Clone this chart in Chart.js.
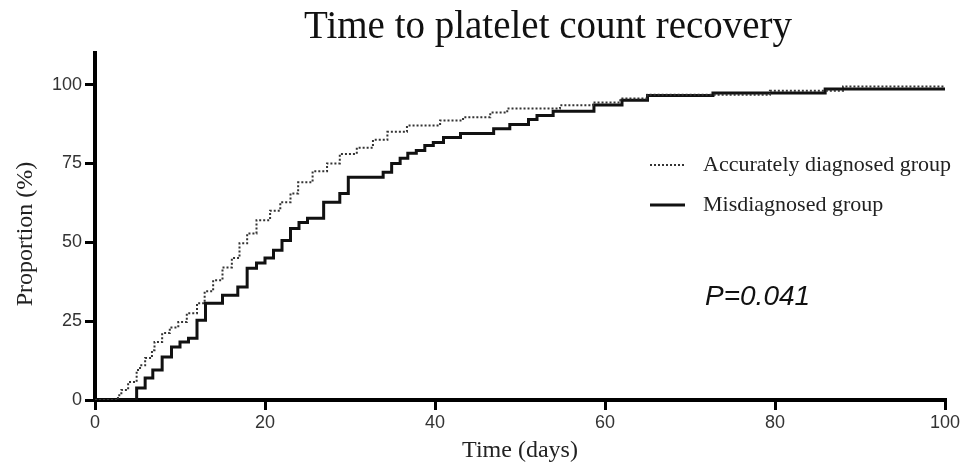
<!DOCTYPE html>
<html>
<head>
<meta charset="utf-8">
<title>Time to platelet count recovery</title>
<script src="https://cdn.jsdelivr.net/npm/chart.js@4.4.1/dist/chart.umd.min.js"></script>
<style>
    body { margin: 0; background: #fff; }
    #wrap { width: 974px; height: 466px; position: relative; }
</style>
</head>
<body>
<div id="wrap"><canvas id="kmChart"></canvas></div>
<script>
// Kaplan-Meier style step data (day of step, proportion after step)
const accurateDays = [0, 2.7, 3.1, 3.9, 4.9, 5.3, 5.9, 6.7, 7.0, 7.9, 8.8, 9.8, 10.8, 12.0, 12.9, 13.9, 15.0, 16.1, 17.0, 17.9, 19.0, 20.6, 21.8, 23.0, 23.9, 25.6, 27.3, 28.8, 30.8, 32.7, 34.4, 36.7, 40.6, 43.3, 46.5, 48.5, 54.7, 58.6, 61.8, 65.0, 79.4, 88.0, 100];
const accurateProp = [0, 1.5, 3.2, 5.7, 9.5, 11.0, 13.3, 15.8, 18.4, 21.2, 23.0, 24.7, 27.5, 30.7, 34.5, 38.0, 42.0, 45.0, 49.7, 52.8, 57.0, 60.0, 62.7, 65.5, 69.0, 72.5, 75.0, 78.0, 80.0, 82.5, 85.0, 87.0, 88.6, 89.6, 91.1, 92.4, 93.4, 94.3, 95.6, 96.8, 98.0, 99.4, 99.4];

const misDays = [0, 4.9, 5.9, 6.8, 7.9, 9.0, 10.0, 11.0, 12.0, 13.0, 15.0, 16.8, 17.9, 19.0, 20.0, 21.0, 22.0, 23.0, 24.0, 25.0, 26.9, 28.8, 29.8, 33.9, 34.9, 35.9, 36.8, 37.8, 38.8, 39.8, 41.0, 43.0, 46.9, 48.8, 51.0, 52.0, 53.9, 58.7, 62.0, 65.0, 72.7, 85.9, 100];
const misProp = [0, 3.8, 7.0, 9.5, 13.6, 16.8, 18.4, 19.6, 25.3, 30.7, 33.2, 35.8, 41.8, 43.4, 45.0, 47.5, 50.6, 54.4, 56.3, 57.6, 62.7, 65.5, 70.6, 72.2, 75.0, 76.6, 78.2, 79.1, 80.7, 81.6, 83.2, 84.5, 86.0, 87.3, 88.9, 90.2, 91.5, 93.5, 95.0, 96.5, 97.3, 98.6, 98.6];

const xTicks = [0, 20, 40, 60, 80, 100];
const yTicks = [0, 25, 50, 75, 100];

const seriesNames = ["Accurately diagnosed group", "Misdiagnosed group"];
const titleText = "Time to platelet count recovery";
const yTitleText = "Proportion (%)";
const pText = "P=0.041";

function toPoints(days, props) {
    return days.map((d, i) => ({ x: d, y: props[i] }));
}

// draws the title, the y axis title, the legend inside the plot and the P value
const annotations = {
    id: "annotations",
    afterDraw(chart) {
        const ctx = chart.ctx;
        ctx.save();
        ctx.fillStyle = "#111";

        // title
        ctx.font = "39px 'Liberation Serif', serif";
        ctx.textAlign = "center";
        ctx.textBaseline = "alphabetic";
        ctx.fillText(titleText, 548, 38);

        // y axis title
        ctx.save();
        ctx.translate(26, 234);
        ctx.rotate(-Math.PI / 2);
        ctx.textBaseline = "middle";
        ctx.font = "24px 'Liberation Serif', serif";
        ctx.fillStyle = "#222";
        ctx.fillText(yTitleText, 0, 0);
        ctx.restore();

        // legend
        ctx.textAlign = "left";
        ctx.textBaseline = "middle";
        ctx.font = "22px 'Liberation Serif', serif";
        const rows = [165, 205];
        chart.data.datasets.forEach((ds, i) => {
            const y = rows[i];
            ctx.beginPath();
            ctx.strokeStyle = ds.borderColor;
            ctx.lineWidth = ds.borderWidth;
            ctx.setLineDash(ds.borderDash || []);
            ctx.moveTo(650, y);
            ctx.lineTo(685, y);
            ctx.stroke();
            ctx.setLineDash([]);
            ctx.fillStyle = "#222";
            ctx.fillText(ds.label, 703, y);
        });

        // P value
        ctx.font = "italic 28px 'Liberation Sans', sans-serif";
        ctx.fillStyle = "#111";
        ctx.fillText(pText, 705, 297);
        ctx.restore();
    }
};

document.addEventListener("DOMContentLoaded", () => {
    const canvas = document.getElementById("kmChart").getContext("2d");

    new Chart(canvas, {
        type: "line",
        data: {
            datasets: [{
                label: seriesNames[0],
                data: toPoints(accurateDays, accurateProp),
                borderColor: "#333",
                borderWidth: 2,
                borderDash: [2, 2],
                stepped: "before",
                pointRadius: 0,
                fill: false
            }, {
                label: seriesNames[1],
                data: toPoints(misDays, misProp),
                borderColor: "#111",
                borderWidth: 3,
                stepped: "before",
                pointRadius: 0,
                fill: false
            }]
        },
        options: {
            responsive: true,
            maintainAspectRatio: false,
            animation: false,
            layout: {
                padding: { left: 0, right: 29, top: 53, bottom: 0 }
            },
            scales: {
                x: {
                    type: "linear",
                    min: 0,
                    max: 100,
                    afterFit: scale => { scale.height = 66; },
                    afterBuildTicks: axis => { axis.ticks = xTicks.map(v => ({ value: v })); },
                    border: { display: true, color: "#000", width: 4 },
                    grid: {
                        drawOnChartArea: false,
                        drawTicks: true,
                        tickLength: 10,
                        color: "#000",
                        lineWidth: 3
                    },
                    ticks: {
                        padding: 2,
                        maxRotation: 0,
                        color: "#333",
                        font: { family: "'Liberation Sans', sans-serif", size: 18 }
                    },
                    title: {
                        display: true,
                        text: "Time (days)",
                        color: "#222",
                        padding: { top: 0, bottom: 1 },
                        font: { family: "'Liberation Serif', serif", size: 24 }
                    }
                },
                y: {
                    type: "linear",
                    min: 0,
                    max: 110,
                    afterFit: scale => { scale.width = 95; },
                    afterBuildTicks: axis => { axis.ticks = yTicks.map(v => ({ value: v })); },
                    border: { display: true, color: "#000", width: 4 },
                    grid: {
                        drawOnChartArea: false,
                        drawTicks: true,
                        tickLength: 10,
                        color: "#000",
                        lineWidth: 3
                    },
                    ticks: {
                        padding: 3,
                        color: "#333",
                        font: { family: "'Liberation Sans', sans-serif", size: 18 }
                    },
                    title: { display: false }
                }
            },
            plugins: {
                legend: { display: false },
                tooltip: { enabled: false }
            }
        },
        plugins: [annotations]
    });
});
</script>
</body>
</html>
